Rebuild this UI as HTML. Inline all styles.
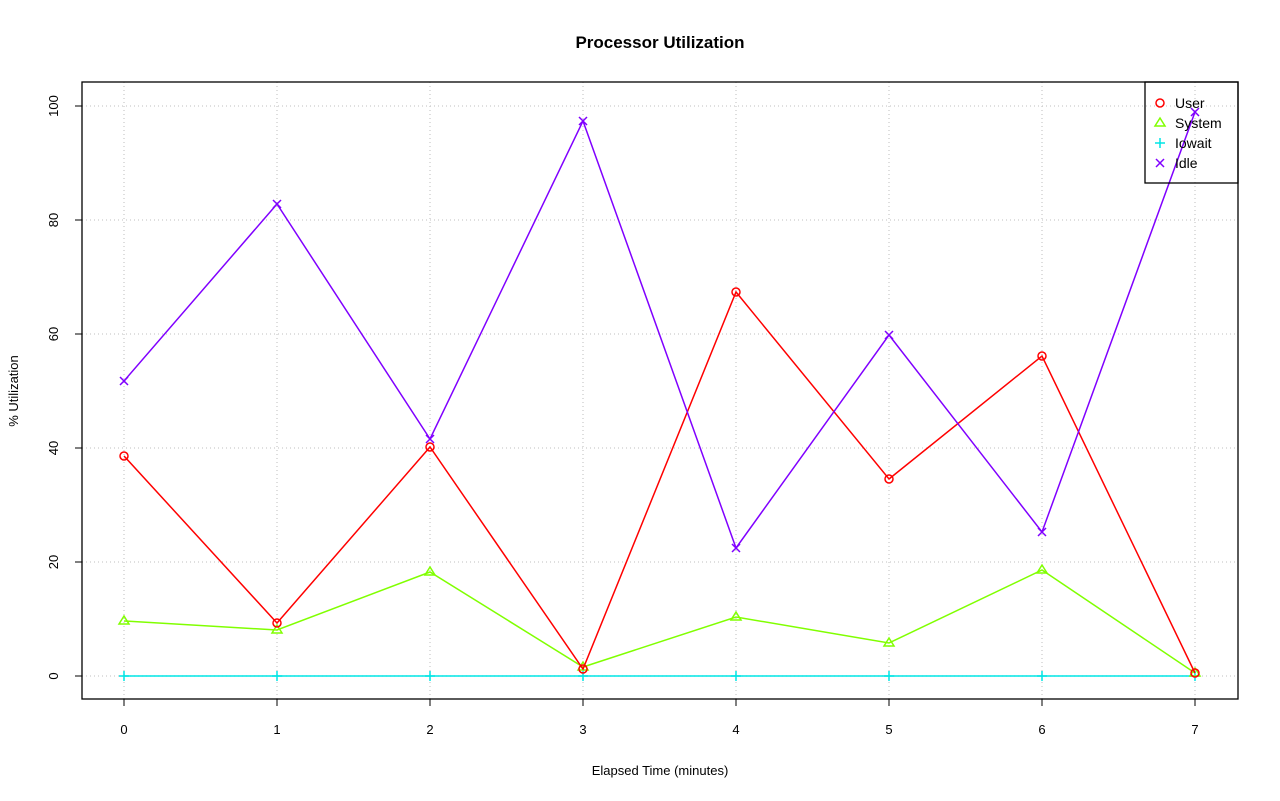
<!DOCTYPE html>
<html><head><style>body{margin:0;background:#fff}svg{display:block}text{font-family:"Liberation Sans",sans-serif}</style></head>
<body>
<svg width="1280" height="801" xmlns="http://www.w3.org/2000/svg">
<rect width="1280" height="801" fill="#fff"/>
<text x="660" y="48" font-size="17" font-weight="bold" text-anchor="middle">Processor Utilization</text>
<g stroke="#ccc" stroke-dasharray="1,3" stroke-width="1.3">
<line x1="124" y1="82" x2="124" y2="699"/><line x1="277" y1="82" x2="277" y2="699"/><line x1="430" y1="82" x2="430" y2="699"/><line x1="583" y1="82" x2="583" y2="699"/><line x1="736" y1="82" x2="736" y2="699"/><line x1="889" y1="82" x2="889" y2="699"/><line x1="1042" y1="82" x2="1042" y2="699"/><line x1="1195" y1="82" x2="1195" y2="699"/>
<line x1="82" y1="676" x2="1238" y2="676"/><line x1="82" y1="562" x2="1238" y2="562"/><line x1="82" y1="448" x2="1238" y2="448"/><line x1="82" y1="334" x2="1238" y2="334"/><line x1="82" y1="220" x2="1238" y2="220"/><line x1="82" y1="106" x2="1238" y2="106"/>
</g>
<rect x="82" y="82" width="1156" height="617" fill="none" stroke="#000" stroke-width="1.3"/>
<g stroke="#000" stroke-width="1">
<line x1="124" y1="699" x2="1195" y2="699"/>
<line x1="124" y1="699" x2="124" y2="706"/><line x1="277" y1="699" x2="277" y2="706"/><line x1="430" y1="699" x2="430" y2="706"/><line x1="583" y1="699" x2="583" y2="706"/><line x1="736" y1="699" x2="736" y2="706"/><line x1="889" y1="699" x2="889" y2="706"/><line x1="1042" y1="699" x2="1042" y2="706"/><line x1="1195" y1="699" x2="1195" y2="706"/>
<line x1="82" y1="106" x2="82" y2="676"/>
<line x1="75" y1="676" x2="82" y2="676"/><line x1="75" y1="562" x2="82" y2="562"/><line x1="75" y1="448" x2="82" y2="448"/><line x1="75" y1="334" x2="82" y2="334"/><line x1="75" y1="220" x2="82" y2="220"/><line x1="75" y1="106" x2="82" y2="106"/>
</g>
<g font-size="13" text-anchor="middle">
<text x="124" y="734">0</text><text x="277" y="734">1</text><text x="430" y="734">2</text><text x="583" y="734">3</text><text x="736" y="734">4</text><text x="889" y="734">5</text><text x="1042" y="734">6</text><text x="1195" y="734">7</text>
<text transform="translate(58,676) rotate(-90)">0</text><text transform="translate(58,562) rotate(-90)">20</text><text transform="translate(58,448) rotate(-90)">40</text><text transform="translate(58,334) rotate(-90)">60</text><text transform="translate(58,220) rotate(-90)">80</text><text transform="translate(58,106) rotate(-90)">100</text>
<text x="660" y="775">Elapsed Time (minutes)</text>
<text transform="translate(18,391) rotate(-90)">% Utilization</text>
</g>
<polyline fill="none" stroke="#00e5e5" stroke-width="1.5" points="124,676 1195,676"/>
<g stroke="#00e5e5" stroke-width="1.5">
<path d="M119,676h10M124,671v10M272,676h10M277,671v10M425,676h10M430,671v10M578,676h10M583,671v10M731,676h10M736,671v10M884,676h10M889,671v10M1037,676h10M1042,671v10M1190,676h10M1195,671v10"/>
</g>
<polyline fill="none" stroke="#80ff00" stroke-width="1.5" points="124,621 277,630 430,572 583,667 736,617 889,643 1042,570 1195,673"/>
<g fill="none" stroke="#80ff00" stroke-width="1.5">
<path d="M124,616l5,8h-10z M277,625l5,8h-10z M430,567l5,8h-10z M583,662l5,8h-10z M736,612l5,8h-10z M889,638l5,8h-10z M1042,565l5,8h-10z M1195,668l5,8h-10z"/>
</g>
<polyline fill="none" stroke="#ff0000" stroke-width="1.5" points="124,456 277,623 430,447 583,669 736,292 889,479 1042,356 1195,673"/>
<g fill="none" stroke="#ff0000" stroke-width="1.5">
<circle cx="124" cy="456" r="4"/><circle cx="277" cy="623" r="4"/><circle cx="430" cy="447" r="4"/><circle cx="583" cy="669" r="4"/><circle cx="736" cy="292" r="4"/><circle cx="889" cy="479" r="4"/><circle cx="1042" cy="356" r="4"/><circle cx="1195" cy="673" r="4"/>
</g>
<polyline fill="none" stroke="#8000ff" stroke-width="1.5" points="124,381 277,204 430,439 583,121 736,548 889,335 1042,532 1195,112"/>
<g stroke="#8000ff" stroke-width="1.5">
<path d="M120,377l8,8M128,377l-8,8 M273,200l8,8M281,200l-8,8 M426,435l8,8M434,435l-8,8 M579,117l8,8M587,117l-8,8 M732,544l8,8M740,544l-8,8 M885,331l8,8M893,331l-8,8 M1038,528l8,8M1046,528l-8,8 M1191,108l8,8M1199,108l-8,8"/>
</g>
<rect x="1145" y="82" width="93" height="101" fill="none" stroke="#000" stroke-width="1.3"/>
<circle cx="1160" cy="103" r="4" fill="none" stroke="#f00" stroke-width="1.5"/>
<path d="M1160,118l5,8h-10z" fill="none" stroke="#80ff00" stroke-width="1.5"/>
<path d="M1155,143h10M1160,138v10" stroke="#00e5e5" stroke-width="1.5"/>
<path d="M1156,159l8,8M1164,159l-8,8" stroke="#8000ff" stroke-width="1.5"/>
<g font-size="14"><text x="1175" y="108">User</text><text x="1175" y="128">System</text><text x="1175" y="148">Iowait</text><text x="1175" y="168">Idle</text></g>
</svg>
</body></html>
